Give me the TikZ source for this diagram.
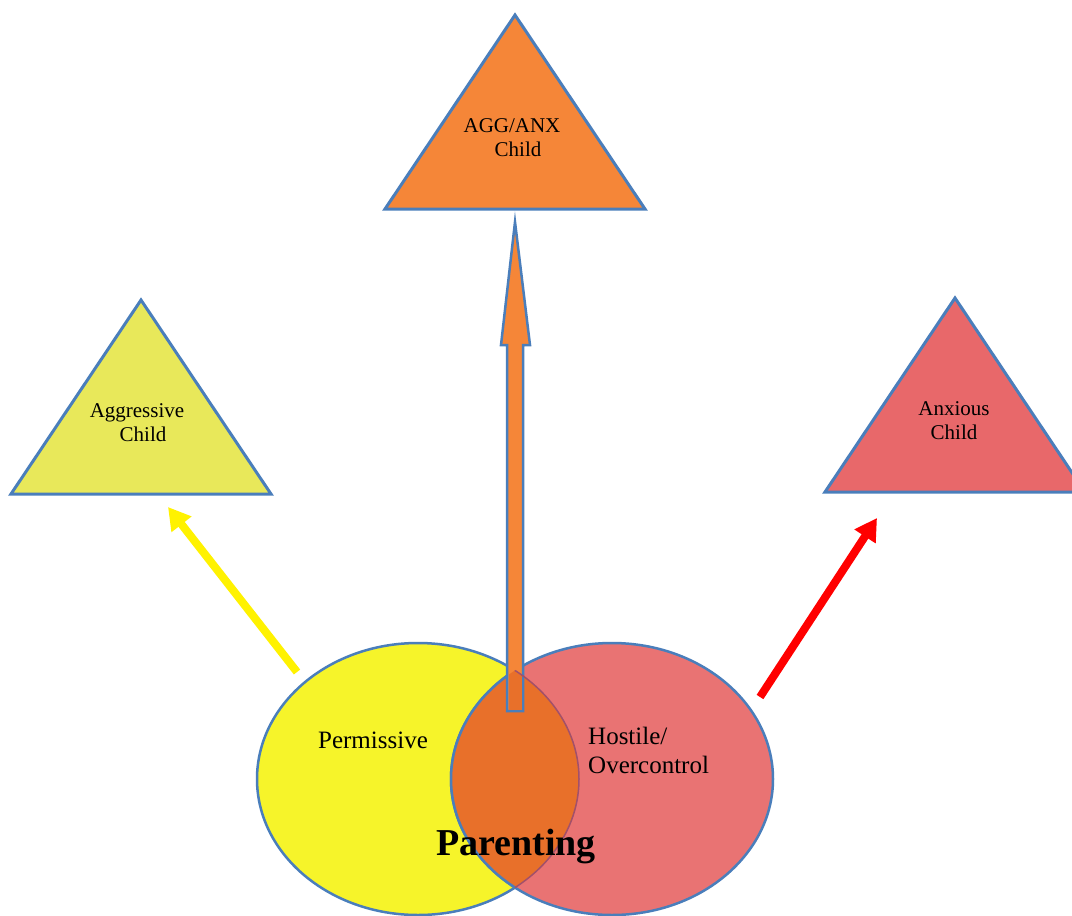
\documentclass[tikz,border=0pt]{standalone}
\usepackage{fontspec}
\setmainfont{Liberation Serif}
\usepackage{tikz}
\usetikzlibrary{arrows.meta}

\definecolor{edgeblue}{HTML}{4A7EBB}
\definecolor{aggfill}{HTML}{E8E85A}
\definecolor{mixfill}{HTML}{F58638}
\definecolor{anxfill}{HTML}{E8686A}
\definecolor{permfill}{HTML}{F6F42A}
\definecolor{hostfill}{HTML}{E97373}
\definecolor{bothfill}{HTML}{E8702A}
\definecolor{seamline}{HTML}{A2506A}

\begin{document}
\begin{tikzpicture}[x=1pt, y=-1pt,
    tri/.style={draw=edgeblue, line width=3pt, line join=miter},
    oval/.style={draw=edgeblue, line width=2.5pt},
    small/.style={inner sep=0pt, align=center, font=\fontsize{21}{24}\selectfont},
    mid/.style={inner sep=0pt, align=left, font=\fontsize{25}{29}\selectfont},
    thinarrow/.style={line width=8pt, -{Triangle[length=22pt, width=24pt]}}]

    \useasboundingbox (0,0) rectangle (1072,916);
    \fill[white] (0,0) rectangle (1072,916);

    % Draw the child triangles
    \foreach \nm/\ax/\ay/\col in {agg/141/300/aggfill, mix/515/15/mixfill, anx/955/298/anxfill} {
      \filldraw[tri, fill=\col] (\ax,\ay) -- ++(-130,194) -- ++(260,0) -- cycle;
      \coordinate (\nm-top) at (\ax,\ay);
    }

    % Triangle labels
    \node[small] (aggtext) at (137,423) {Aggressive\\\hspace*{12pt}Child};
    \node[small] (mixtext) at (512,138) {AGG/ANX\\\hspace*{12pt}Child};
    \node[small] (anxtext) at (954,421) {Anxious\\Child};

    % Draw the two parenting ellipses
    \filldraw[oval, fill=permfill] (418,779) ellipse [x radius=161, y radius=136];
    \filldraw[oval, fill=hostfill] (612,779) ellipse [x radius=161, y radius=136];
    \begin{scope}
      \clip (418,779) ellipse [x radius=161, y radius=136];
      \fill[bothfill] (612,779) ellipse [x radius=161, y radius=136];
      \draw[oval] (612,779) ellipse [x radius=161, y radius=136];
    \end{scope}

    % Central block arrow
    \coordinate (mixfoot) at (515,711);
    \filldraw[fill=mixfill, draw=edgeblue, line width=2.5pt, line join=miter]
      (507,711) -- (507,345) -- (501,345) -- (515,222) -- (530,345)
      -- (523,345) -- (523,711) -- cycle;
    \begin{scope}
      \clip (418,779) ellipse [x radius=161, y radius=136];
      \clip (612,779) ellipse [x radius=161, y radius=136];
      \fill[bothfill] (508.5,645) rectangle (521.5,709.5);
    \end{scope}
    \begin{scope}
      \clip (612,779) ellipse [x radius=161, y radius=136];
      \draw[seamline, line width=1.5pt] (418,779) ellipse [x radius=161, y radius=136];
    \end{scope}

    % Side arrows
    \coordinate (yeltail) at (297,672);
    \coordinate (yeltip) at (168,507);
    \coordinate (redtail) at (760,697);
    \coordinate (redtip) at (877,518);
    \draw[thinarrow, yellow] (yeltail) -- (yeltip);
    \draw[thinarrow, red] (redtail) -- (redtip);

    % Ellipse labels
    \node[mid, anchor=base] (permtext) at (373,748) {Permissive};
    \node[mid, anchor=west] (hosttext) at (588,750) {Hostile/\\Overcontrol};
    \node[inner sep=0pt, anchor=base, font=\fontsize{38}{44}\selectfont\bfseries] (parenting) at (516,855) {Parenting};

  \end{tikzpicture}
\end{document}
